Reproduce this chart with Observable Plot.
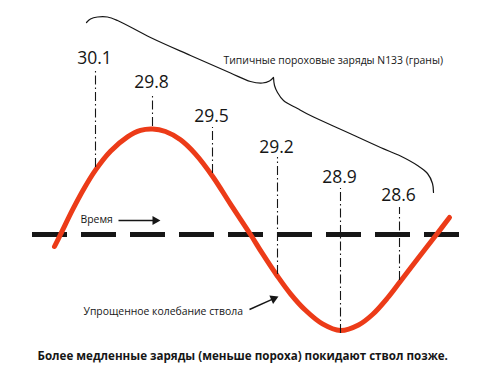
<!DOCTYPE html>
<html>
<head>
<meta charset="utf-8">
<script src="https://cdn.jsdelivr.net/npm/d3@7"></script>
<script src="https://cdn.jsdelivr.net/npm/@observablehq/plot@0.6"></script>
<style>
  html, body { margin: 0; padding: 0; background: #fff; }
  #chart { width: 480px; height: 374px; }
</style>
</head>
<body>
<div id="chart"></div>
<script>
// Simplified barrel oscillation (time, displacement)
const curveT    = [54, 60, 72, 84, 95, 110, 127, 140, 152, 165, 180, 195, 212, 230, 250, 262, 277, 290, 305, 322, 340, 358, 372, 387, 399, 417, 436, 449];
const curveDisp = [-12, 0, 24.6, 46.8, 64.4, 83.2, 97.6, 104.1, 105.5, 103, 94.7, 80.4, 58.3, 30.4, 0, -19.2, -41.7, -59.3, -75.8, -89.4, -96, -90.5, -80, -63.5, -48, -24.5, 0, 17];

// Powder charges (grains) and where they leave the barrel
const chargeLabels = ["30.1", "29.8", "29.5", "29.2", "28.9", "28.6"];
const chargeT      = [95, 152, 212, 277, 340, 399];
const chargeDisp   = [67, 108, 61, -40, -99, -46];     // point on the curve
const chargeTop    = [166, 141, 107, 77, 46, 27];      // top of dash-dot line
const chargeLabelY = [171, 147, 113, 82, 52, 34];      // label baseline

// Time axis (dashed)
const axisStart = 32, axisEnd = 460;

// Brace over the charges (two halves meeting at the tip)
const braceLeftT  = [86, 90, 97, 107, 117, 150, 190, 230, 250, 262, 269, 273];
const braceLeftY  = [212, 215.5, 217.5, 217.5, 214, 197, 179, 161.5, 153, 151.5, 153.5, 157];
const braceRightT = [273, 274, 277, 283, 297, 310, 345, 380, 400, 417, 427, 432, 433];
const braceRightY = [157, 149, 142, 134, 126, 119, 103, 87, 78.5, 69, 61, 51, 42];

// Text annotations
const noteTexts = ["Типичные пороховые заряды N133 (граны)", "Время", "Упрощенное колебание ствола"];
const noteT     = [223, 80, 83];
const noteY     = [171, 12, -80];
const captionText = "Более медленные заряды (меньше пороха) покидают ствол позже.";
const captionT = 37, captionY = -125;

// Arrows (tail -> tip)
const arrowTailT = [118, 249], arrowTailY = [14, -75];
const arrowTipT  = [160, 278], arrowTipY  = [14, -62];

// ---- build tables ----
const curve = curveT.map((t, i) => ({t, d: curveDisp[i]}));
const charges = chargeLabels.map((label, i) => ({label, t: chargeT[i], bottom: chargeDisp[i], top: chargeTop[i], ly: chargeLabelY[i]}));
const brace = [
  ...braceLeftT.map((t, i) => ({t, d: braceLeftY[i], piece: "a"})),
  ...braceRightT.map((t, i) => ({t, d: braceRightY[i], piece: "b"}))
];
const notes = noteTexts.map((text, i) => ({text, t: noteT[i], d: noteY[i]}));
const headLen = 8;
const arrows = arrowTailT.map((t0, i) => {
  const t1 = arrowTipT[i], d0 = arrowTailY[i], d1 = arrowTipY[i];
  const dx = t1 - t0, dy = d1 - d0, len = Math.hypot(dx, dy);
  const ux = dx / len, uy = dy / len;
  const angle = Math.atan2(-dy, dx) * 180 / Math.PI; // screen angle
  return {
    t0, d0,
    t1s: t1 - ux * (headLen - 1), d1s: d1 - uy * (headLen - 1),
    hx: t1 - ux * headLen * 2 / 3, hy: d1 - uy * headLen * 2 / 3,
    rot: angle + 90
  };
});

const ink = "#161616";
const chart = Plot.plot({
  width: 480,
  height: 374,
  margin: 0,
  x: {domain: [0, 480], axis: null},
  y: {domain: [-140, 234], axis: null},
  style: {background: "#fff", fontFamily: "'Open Sans', sans-serif", color: ink},
  marks: [
    Plot.ruleY([{d: 0, x1: axisStart, x2: axisEnd}], {y: "d", x1: "x1", x2: "x2", stroke: ink, strokeWidth: 5, strokeDasharray: "35,14"}),
    Plot.line(curve, {x: "t", y: "d", curve: "catmull-rom", stroke: "#ec3b18", strokeWidth: 5}),
    Plot.ruleX(charges, {x: "t", y1: "bottom", y2: "top", stroke: ink, strokeWidth: 1.1, strokeDasharray: "9,3,1.5,3"}),
    Plot.text(charges, {x: "t", y: "ly", text: "label", fontSize: 17.5, lineAnchor: "bottom", fill: ink, dx: -1}),
    Plot.line(brace, {x: "t", y: "d", z: "piece", curve: "catmull-rom", stroke: ink, strokeWidth: 1.2}),
    Plot.text(notes, {x: "t", y: "d", text: "text", fontSize: 10.4, textAnchor: "start", lineAnchor: "bottom", fill: ink}),
    Plot.text([captionText], {x: captionT, y: captionY, text: d => d, fontSize: 11.6, fontWeight: "bold", textAnchor: "start", lineAnchor: "bottom", fill: ink}),
    Plot.link(arrows, {x1: "t0", y1: "d0", x2: "t1s", y2: "d1s", stroke: ink, strokeWidth: 1.4}),
    Plot.dot(arrows, {x: "hx", y: "hy", symbol: "triangle", r: 3.4, rotate: "rot", fill: ink, stroke: "none"})
  ]
});
document.getElementById("chart").appendChild(chart);
</script>
</body>
</html>
